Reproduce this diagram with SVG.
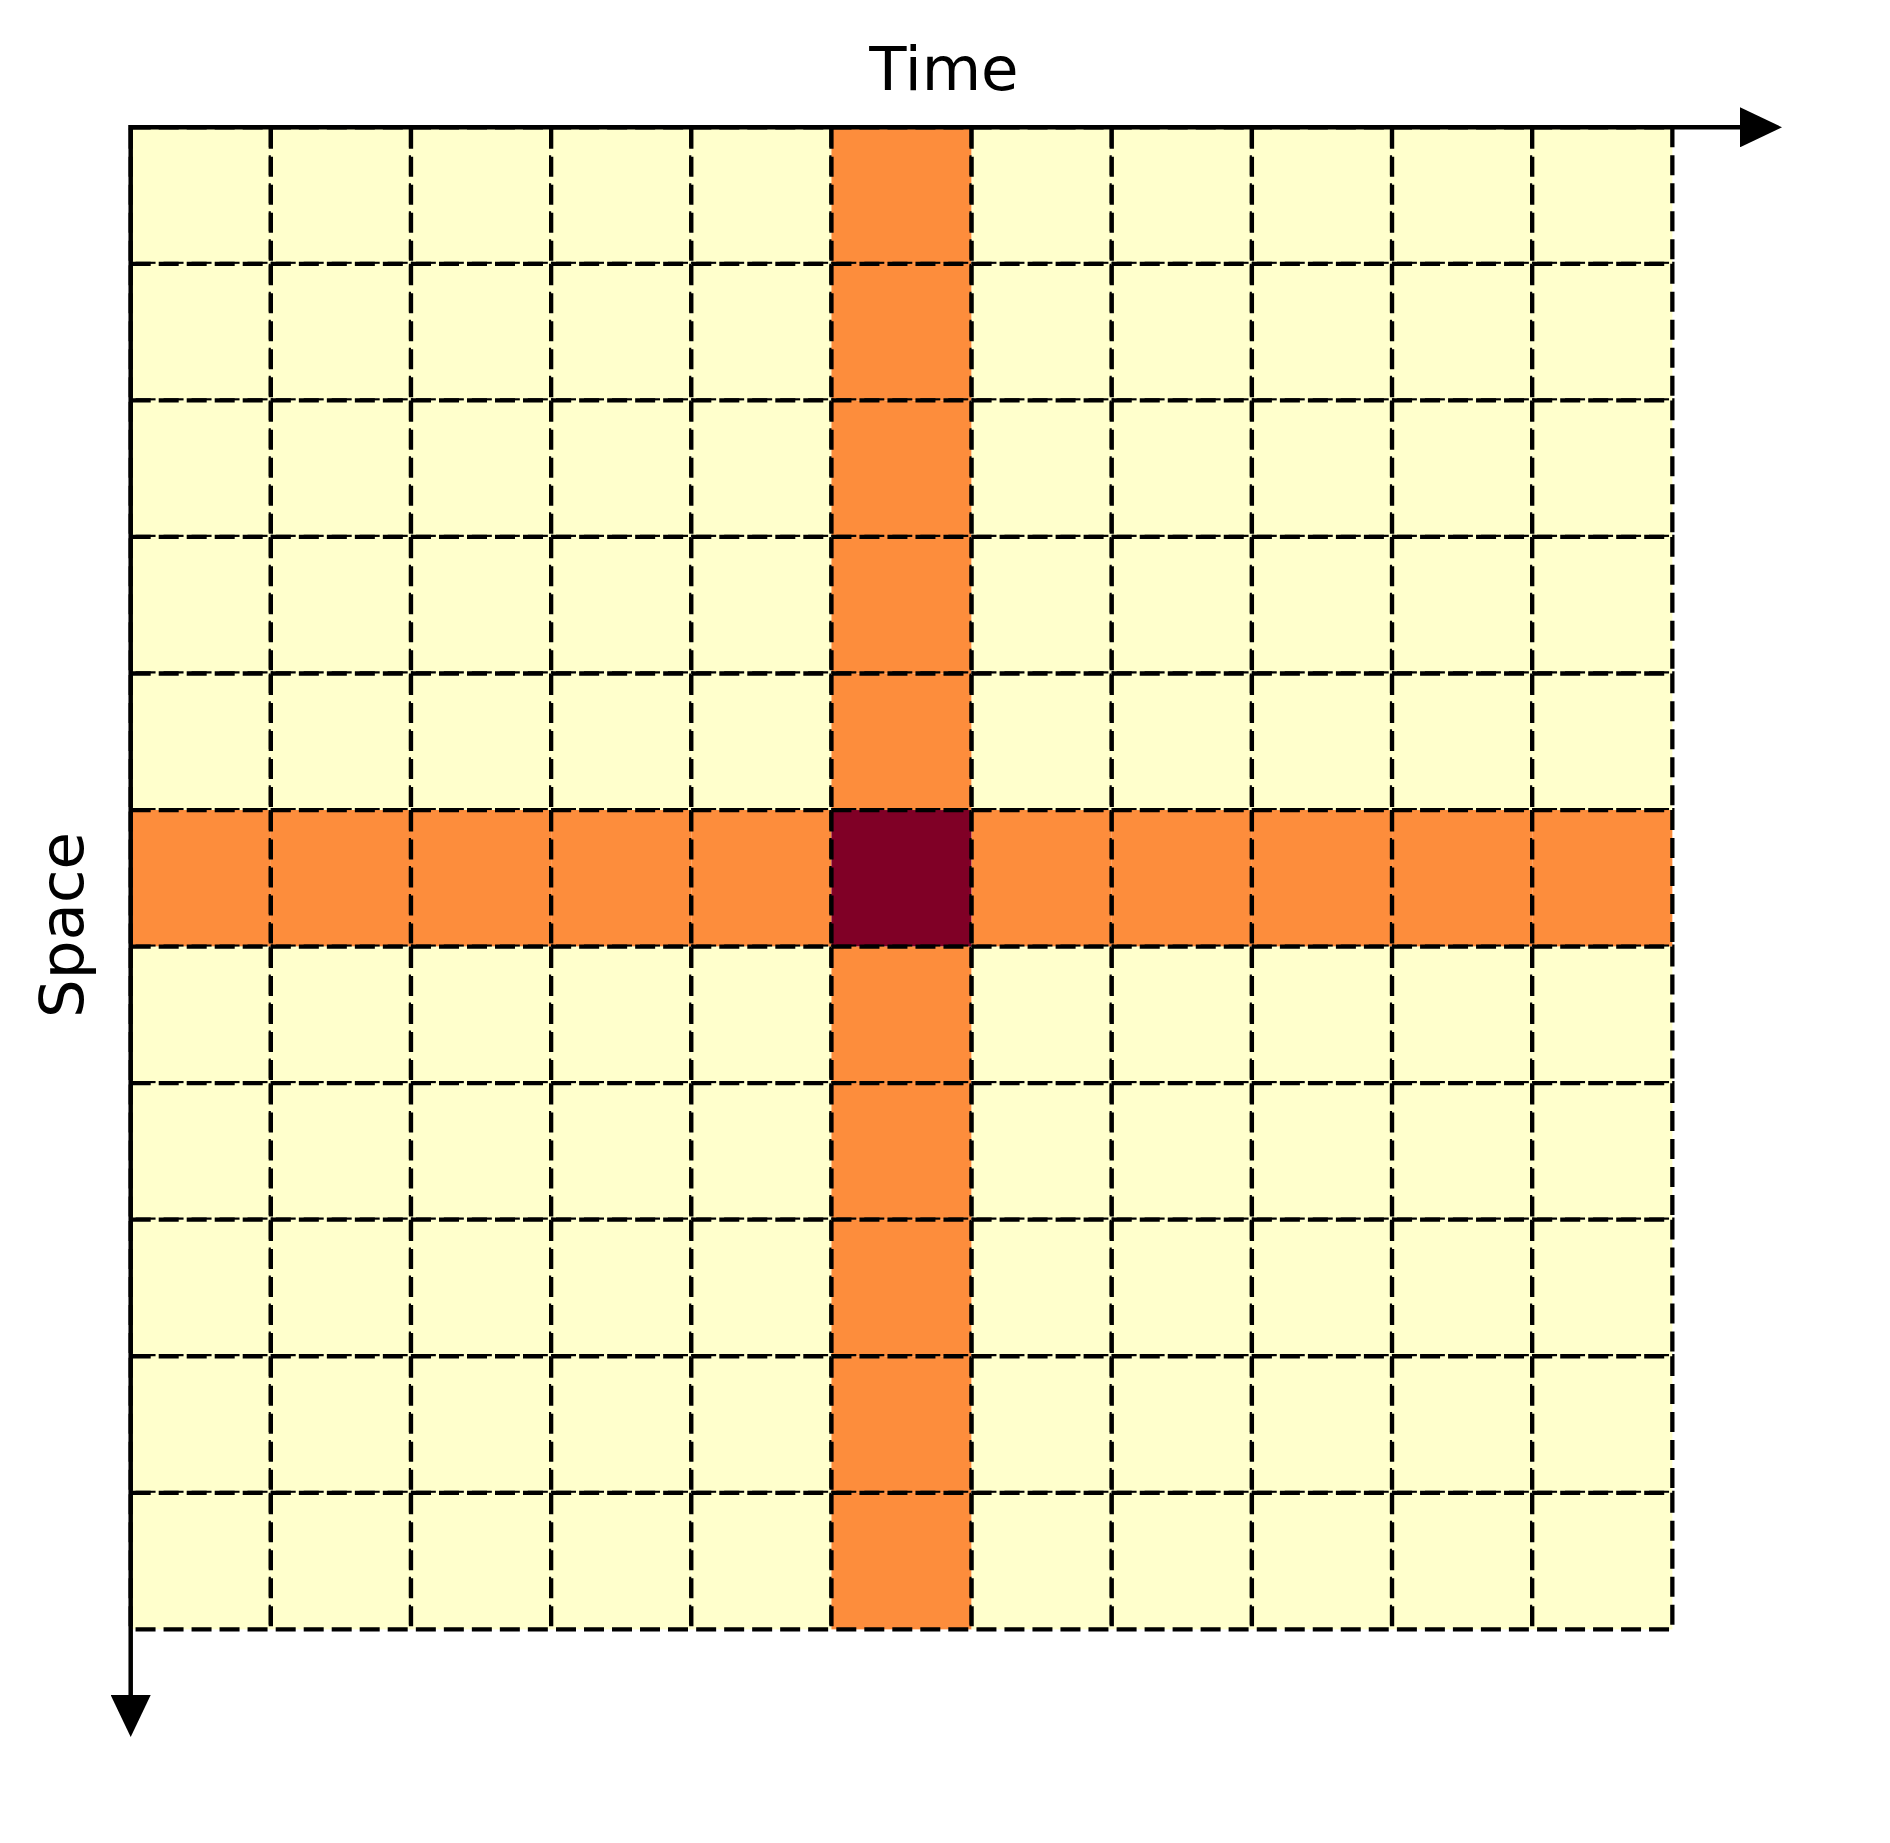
<svg xmlns="http://www.w3.org/2000/svg" width="1890" height="1843" viewBox="0 0 1890 1843">
<style>
.c{stroke:#000;stroke-width:4.3;stroke-dasharray:20 8}
.l{fill:#ffffcc}
.o{fill:#fd8d3c}
.d{fill:#800026}
.ax{stroke:#000;stroke-width:4.5;fill:none}
.t{font-family:"DejaVu Sans",sans-serif;font-size:61px;fill:#000}
</style>
<defs>
<marker id="ah" markerUnits="userSpaceOnUse" markerWidth="42" markerHeight="40" refX="0" refY="20" orient="auto" viewBox="0 0 42 40">
<path d="M0,0 L42,20 L0,40 Z" fill="#000"/>
</marker>
</defs>
<rect width="1890" height="1843" fill="#fff"/>
<g id="grid">
<g id="row0">
<rect class="c l" x="130.7" y="127.3" width="140.15" height="136.55"/><rect class="c l" x="270.85" y="127.3" width="140.15" height="136.55"/><rect class="c l" x="411" y="127.3" width="140.15" height="136.55"/><rect class="c l" x="551.15" y="127.3" width="140.15" height="136.55"/><rect class="c l" x="691.3" y="127.3" width="140.15" height="136.55"/><rect class="c o" x="831.45" y="127.3" width="140.15" height="136.55"/><rect class="c l" x="971.6" y="127.3" width="140.15" height="136.55"/><rect class="c l" x="1111.75" y="127.3" width="140.15" height="136.55"/><rect class="c l" x="1251.9" y="127.3" width="140.15" height="136.55"/><rect class="c l" x="1392.05" y="127.3" width="140.15" height="136.55"/><rect class="c l" x="1532.2" y="127.3" width="140.15" height="136.55"/>
</g>
<g id="row1">
<rect class="c l" x="130.7" y="263.85" width="140.15" height="136.55"/><rect class="c l" x="270.85" y="263.85" width="140.15" height="136.55"/><rect class="c l" x="411" y="263.85" width="140.15" height="136.55"/><rect class="c l" x="551.15" y="263.85" width="140.15" height="136.55"/><rect class="c l" x="691.3" y="263.85" width="140.15" height="136.55"/><rect class="c o" x="831.45" y="263.85" width="140.15" height="136.55"/><rect class="c l" x="971.6" y="263.85" width="140.15" height="136.55"/><rect class="c l" x="1111.75" y="263.85" width="140.15" height="136.55"/><rect class="c l" x="1251.9" y="263.85" width="140.15" height="136.55"/><rect class="c l" x="1392.05" y="263.85" width="140.15" height="136.55"/><rect class="c l" x="1532.2" y="263.85" width="140.15" height="136.55"/>
</g>
<g id="row2">
<rect class="c l" x="130.7" y="400.4" width="140.15" height="136.55"/><rect class="c l" x="270.85" y="400.4" width="140.15" height="136.55"/><rect class="c l" x="411" y="400.4" width="140.15" height="136.55"/><rect class="c l" x="551.15" y="400.4" width="140.15" height="136.55"/><rect class="c l" x="691.3" y="400.4" width="140.15" height="136.55"/><rect class="c o" x="831.45" y="400.4" width="140.15" height="136.55"/><rect class="c l" x="971.6" y="400.4" width="140.15" height="136.55"/><rect class="c l" x="1111.75" y="400.4" width="140.15" height="136.55"/><rect class="c l" x="1251.9" y="400.4" width="140.15" height="136.55"/><rect class="c l" x="1392.05" y="400.4" width="140.15" height="136.55"/><rect class="c l" x="1532.2" y="400.4" width="140.15" height="136.55"/>
</g>
<g id="row3">
<rect class="c l" x="130.7" y="536.95" width="140.15" height="136.55"/><rect class="c l" x="270.85" y="536.95" width="140.15" height="136.55"/><rect class="c l" x="411" y="536.95" width="140.15" height="136.55"/><rect class="c l" x="551.15" y="536.95" width="140.15" height="136.55"/><rect class="c l" x="691.3" y="536.95" width="140.15" height="136.55"/><rect class="c o" x="831.45" y="536.95" width="140.15" height="136.55"/><rect class="c l" x="971.6" y="536.95" width="140.15" height="136.55"/><rect class="c l" x="1111.75" y="536.95" width="140.15" height="136.55"/><rect class="c l" x="1251.9" y="536.95" width="140.15" height="136.55"/><rect class="c l" x="1392.05" y="536.95" width="140.15" height="136.55"/><rect class="c l" x="1532.2" y="536.95" width="140.15" height="136.55"/>
</g>
<g id="row4">
<rect class="c l" x="130.7" y="673.5" width="140.15" height="136.55"/><rect class="c l" x="270.85" y="673.5" width="140.15" height="136.55"/><rect class="c l" x="411" y="673.5" width="140.15" height="136.55"/><rect class="c l" x="551.15" y="673.5" width="140.15" height="136.55"/><rect class="c l" x="691.3" y="673.5" width="140.15" height="136.55"/><rect class="c o" x="831.45" y="673.5" width="140.15" height="136.55"/><rect class="c l" x="971.6" y="673.5" width="140.15" height="136.55"/><rect class="c l" x="1111.75" y="673.5" width="140.15" height="136.55"/><rect class="c l" x="1251.9" y="673.5" width="140.15" height="136.55"/><rect class="c l" x="1392.05" y="673.5" width="140.15" height="136.55"/><rect class="c l" x="1532.2" y="673.5" width="140.15" height="136.55"/>
</g>
<g id="row5">
<rect class="c o" x="130.7" y="810.05" width="140.15" height="136.55"/><rect class="c o" x="270.85" y="810.05" width="140.15" height="136.55"/><rect class="c o" x="411" y="810.05" width="140.15" height="136.55"/><rect class="c o" x="551.15" y="810.05" width="140.15" height="136.55"/><rect class="c o" x="691.3" y="810.05" width="140.15" height="136.55"/><rect class="c d" x="831.45" y="810.05" width="140.15" height="136.55"/><rect class="c o" x="971.6" y="810.05" width="140.15" height="136.55"/><rect class="c o" x="1111.75" y="810.05" width="140.15" height="136.55"/><rect class="c o" x="1251.9" y="810.05" width="140.15" height="136.55"/><rect class="c o" x="1392.05" y="810.05" width="140.15" height="136.55"/><rect class="c o" x="1532.2" y="810.05" width="140.15" height="136.55"/>
</g>
<g id="row6">
<rect class="c l" x="130.7" y="946.6" width="140.15" height="136.55"/><rect class="c l" x="270.85" y="946.6" width="140.15" height="136.55"/><rect class="c l" x="411" y="946.6" width="140.15" height="136.55"/><rect class="c l" x="551.15" y="946.6" width="140.15" height="136.55"/><rect class="c l" x="691.3" y="946.6" width="140.15" height="136.55"/><rect class="c o" x="831.45" y="946.6" width="140.15" height="136.55"/><rect class="c l" x="971.6" y="946.6" width="140.15" height="136.55"/><rect class="c l" x="1111.75" y="946.6" width="140.15" height="136.55"/><rect class="c l" x="1251.9" y="946.6" width="140.15" height="136.55"/><rect class="c l" x="1392.05" y="946.6" width="140.15" height="136.55"/><rect class="c l" x="1532.2" y="946.6" width="140.15" height="136.55"/>
</g>
<g id="row7">
<rect class="c l" x="130.7" y="1083.15" width="140.15" height="136.55"/><rect class="c l" x="270.85" y="1083.15" width="140.15" height="136.55"/><rect class="c l" x="411" y="1083.15" width="140.15" height="136.55"/><rect class="c l" x="551.15" y="1083.15" width="140.15" height="136.55"/><rect class="c l" x="691.3" y="1083.15" width="140.15" height="136.55"/><rect class="c o" x="831.45" y="1083.15" width="140.15" height="136.55"/><rect class="c l" x="971.6" y="1083.15" width="140.15" height="136.55"/><rect class="c l" x="1111.75" y="1083.15" width="140.15" height="136.55"/><rect class="c l" x="1251.9" y="1083.15" width="140.15" height="136.55"/><rect class="c l" x="1392.05" y="1083.15" width="140.15" height="136.55"/><rect class="c l" x="1532.2" y="1083.15" width="140.15" height="136.55"/>
</g>
<g id="row8">
<rect class="c l" x="130.7" y="1219.7" width="140.15" height="136.55"/><rect class="c l" x="270.85" y="1219.7" width="140.15" height="136.55"/><rect class="c l" x="411" y="1219.7" width="140.15" height="136.55"/><rect class="c l" x="551.15" y="1219.7" width="140.15" height="136.55"/><rect class="c l" x="691.3" y="1219.7" width="140.15" height="136.55"/><rect class="c o" x="831.45" y="1219.7" width="140.15" height="136.55"/><rect class="c l" x="971.6" y="1219.7" width="140.15" height="136.55"/><rect class="c l" x="1111.75" y="1219.7" width="140.15" height="136.55"/><rect class="c l" x="1251.9" y="1219.7" width="140.15" height="136.55"/><rect class="c l" x="1392.05" y="1219.7" width="140.15" height="136.55"/><rect class="c l" x="1532.2" y="1219.7" width="140.15" height="136.55"/>
</g>
<g id="row9">
<rect class="c l" x="130.7" y="1356.25" width="140.15" height="136.55"/><rect class="c l" x="270.85" y="1356.25" width="140.15" height="136.55"/><rect class="c l" x="411" y="1356.25" width="140.15" height="136.55"/><rect class="c l" x="551.15" y="1356.25" width="140.15" height="136.55"/><rect class="c l" x="691.3" y="1356.25" width="140.15" height="136.55"/><rect class="c o" x="831.45" y="1356.25" width="140.15" height="136.55"/><rect class="c l" x="971.6" y="1356.25" width="140.15" height="136.55"/><rect class="c l" x="1111.75" y="1356.25" width="140.15" height="136.55"/><rect class="c l" x="1251.9" y="1356.25" width="140.15" height="136.55"/><rect class="c l" x="1392.05" y="1356.25" width="140.15" height="136.55"/><rect class="c l" x="1532.2" y="1356.25" width="140.15" height="136.55"/>
</g>
<g id="row10">
<rect class="c l" x="130.7" y="1492.8" width="140.15" height="136.55"/><rect class="c l" x="270.85" y="1492.8" width="140.15" height="136.55"/><rect class="c l" x="411" y="1492.8" width="140.15" height="136.55"/><rect class="c l" x="551.15" y="1492.8" width="140.15" height="136.55"/><rect class="c l" x="691.3" y="1492.8" width="140.15" height="136.55"/><rect class="c o" x="831.45" y="1492.8" width="140.15" height="136.55"/><rect class="c l" x="971.6" y="1492.8" width="140.15" height="136.55"/><rect class="c l" x="1111.75" y="1492.8" width="140.15" height="136.55"/><rect class="c l" x="1251.9" y="1492.8" width="140.15" height="136.55"/><rect class="c l" x="1392.05" y="1492.8" width="140.15" height="136.55"/><rect class="c l" x="1532.2" y="1492.8" width="140.15" height="136.55"/>
</g>
</g>
<g id="connectors">
<path id="time-axis" class="ax" d="M128.5,127.3 L1740,127.3" marker-end="url(#ah)"/>
<path id="space-axis" class="ax" d="M130.7,125 L130.7,1695" marker-end="url(#ah)"/>
</g>
<g id="labels">
<text class="t" x="944" y="90" text-anchor="middle">Time</text>
<text class="t" transform="translate(83,925) rotate(-90)" text-anchor="middle">Space</text>
</g>
</svg>
